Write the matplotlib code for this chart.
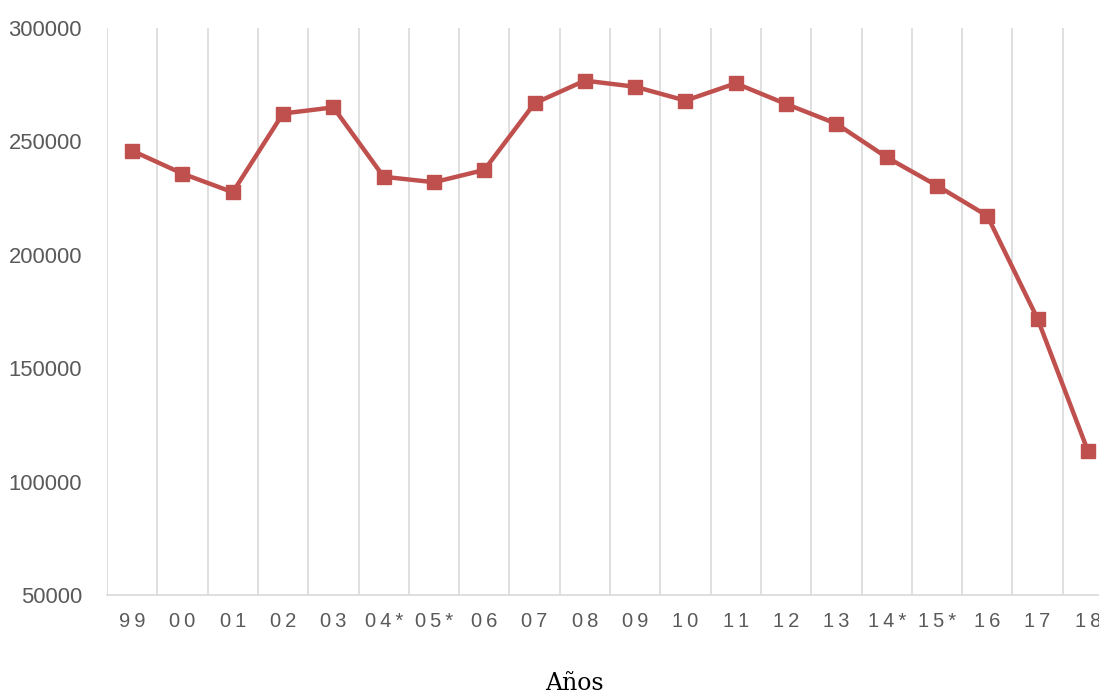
import numpy as np
import matplotlib
matplotlib.use("Agg")
import matplotlib.pyplot as plt
from matplotlib.ticker import FixedLocator

# Serie anual
years = ["99", "00", "01", "02", "03", "04*", "05*", "06", "07", "08",
         "09", "10", "11", "12", "13", "14*", "15*", "16", "17", "18"]
values = [245900, 235800, 227600, 262300, 265000, 234400, 232000, 237400,
          266800, 276800, 274100, 268000, 275600, 266500, 257800, 243000,
          230500, 217200, 171800, 113600]
y_ticks = [50000, 100000, 150000, 200000, 250000, 300000]

line_color = "#C0504D"
grid_color = "#D9D9D9"
text_color = "#595959"
sans = ["Liberation Sans", "DejaVu Sans"]

fig = plt.figure(figsize=(10.99, 6.95), dpi=100)
ax = fig.add_axes([107 / 1099, 100 / 695, 1006 / 1099, 567 / 695])

x = np.arange(len(years))
ax.plot(x, values, color=line_color, linewidth=3.2, marker="s",
        markersize=10, markerfacecolor=line_color, markeredgecolor=line_color,
        zorder=3)

ax.set_xlim(-0.5, len(years) - 0.5)
ax.set_ylim(50000, 300000)

# vertical lines between categories
ax.xaxis.set_minor_locator(FixedLocator(np.arange(-0.5, len(years) + 0.5, 1)))
ax.grid(which="minor", axis="x", color=grid_color, linewidth=1.2)
ax.grid(which="major", visible=False)

ax.set_xticks(x)
ax.set_xticklabels(["\u2009".join(y) for y in years], family=sans,
                   fontsize=14.5, color=text_color)
ax.set_yticks(y_ticks)
ax.set_yticklabels([str(v) for v in y_ticks], family=sans, fontsize=15.8,
                   color=text_color)
ax.tick_params(axis="x", which="both", length=0, pad=12)
ax.tick_params(axis="y", length=0, pad=18)

for side in ["left", "right", "top"]:
    ax.spines[side].set_visible(False)
ax.spines["bottom"].set_color(grid_color)
ax.spines["bottom"].set_linewidth(1.2)

fig.text(574 / 1099, 1 - 683 / 695, "Años", family="DejaVu Serif",
         fontsize=17, color="black", ha="center", va="center")

fig.savefig("out.png", dpi=100)
plt.close(fig)
